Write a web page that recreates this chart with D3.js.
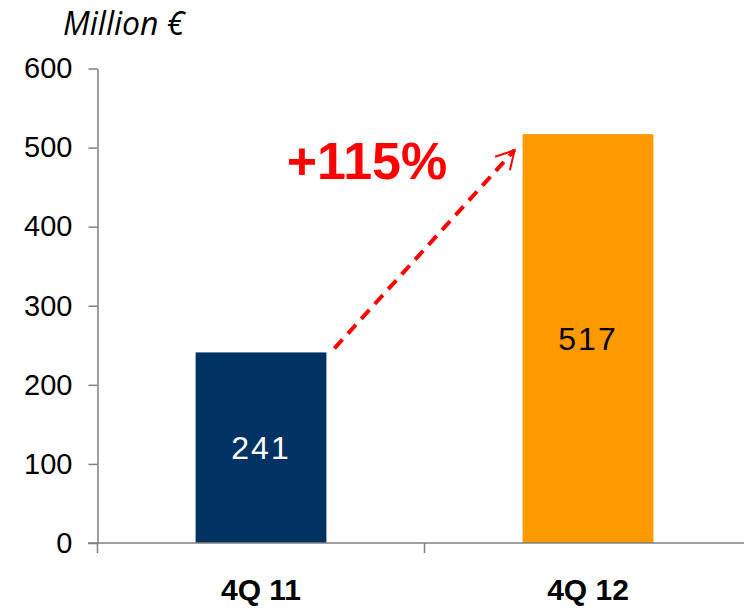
<!DOCTYPE html>
<html>
<head>
<meta charset="utf-8">
<script src="https://cdn.jsdelivr.net/npm/d3@7"></script>
<style>
  body { margin: 0; background: #fff; }
  svg { display: block; }
</style>
</head>
<body>
<svg width="744" height="608"></svg>
<script>
const categories = ["4Q 11", "4Q 12"];
const values = [241, 517];
const colors = ["#003263", "#FF9900"];
const labelColors = ["#ffffff", "#000000"];
const yTicks = [0, 100, 200, 300, 400, 500, 600];
const growthLabel = "+115%";

const width = 744, height = 608;
const svg = d3.select("svg");

const x = d3.scaleBand()
    .domain(categories)
    .range([97.5, 751.5])
    .paddingInner(0.6)
    .paddingOuter(0.3);

const y = d3.scaleLinear()
    .domain([0, 600])
    .range([543, 68.5]);

// y axis
const yAxis = svg.append("g")
    .attr("transform", "translate(97.5,0)")
    .call(d3.axisLeft(y).tickValues(yTicks).tickSize(9).tickSizeOuter(0).tickPadding(16));
yAxis.select(".domain").attr("stroke", "#7f7f7f").attr("stroke-width", 1.5);
yAxis.selectAll(".tick line").attr("stroke", "#7f7f7f").attr("stroke-width", 1.5);
yAxis.selectAll(".tick text")
    .attr("font-family", "Liberation Sans, Arial, sans-serif")
    .attr("font-size", 29)
    .attr("fill", "#000");

// bars
svg.selectAll("rect.bar")
    .data(values)
    .enter()
    .append("rect")
    .attr("class", "bar")
    .attr("x", (d, i) => x(categories[i]))
    .attr("y", d => y(d))
    .attr("width", x.bandwidth())
    .attr("height", d => y(0) - y(d))
    .attr("fill", (d, i) => colors[i]);

// x axis line and ticks at band boundaries
svg.append("line")
    .attr("x1", 88).attr("x2", width)
    .attr("y1", y(0)).attr("y2", y(0))
    .attr("stroke", "#7f7f7f").attr("stroke-width", 1.5);

const bounds = d3.range(categories.length + 1).map(i => x.range()[0] + i * x.step());
svg.selectAll("line.xtick")
    .data(bounds)
    .enter()
    .append("line")
    .attr("class", "xtick")
    .attr("x1", d => d).attr("x2", d => d)
    .attr("y1", y(0)).attr("y2", y(0) + 10)
    .attr("stroke", "#7f7f7f").attr("stroke-width", 1.5);

svg.selectAll("text.cat")
    .data(categories)
    .enter()
    .append("text")
    .attr("class", "cat")
    .attr("x", d => x(d) + x.bandwidth() / 2)
    .attr("y", 600)
    .attr("text-anchor", "middle")
    .attr("font-family", "Liberation Sans, Arial, sans-serif")
    .attr("font-weight", "bold")
    .attr("font-size", 30)
    .text(d => d);

// value labels, centred in bars
svg.selectAll("text.val")
    .data(values)
    .enter()
    .append("text")
    .attr("class", "val")
    .attr("x", (d, i) => x(categories[i]) + x.bandwidth() / 2)
    .attr("y", d => (y(d) + y(0)) / 2)
    .attr("dy", "0.36em")
    .attr("text-anchor", "middle")
    .attr("font-family", "Liberation Sans, Arial, sans-serif")
    .attr("font-size", 32)
    .attr("letter-spacing", 2)
    .attr("fill", (d, i) => labelColors[i])
    .text(d => d);

// title
svg.append("text")
    .attr("x", 63)
    .attr("y", 35)
    .attr("font-family", "'Open Sans', sans-serif")
    .attr("font-style", "italic")
    .attr("font-size", 32)
    .text("Million €");

// growth arrow
const x0 = x(categories[0]) + x.bandwidth() + 8, y0 = y(values[0]) - 4;
const x1 = x(categories[1]) - 8, y1 = y(values[1]) + 16;
svg.append("defs").append("marker")
    .attr("id", "head")
    .attr("viewBox", "0 0 12 12")
    .attr("refX", 10).attr("refY", 6)
    .attr("markerWidth", 6).attr("markerHeight", 6)
    .attr("markerUnits", "strokeWidth")
    .attr("orient", "auto")
    .append("path")
    .attr("d", "M1,1 L10,6 L1,11")
    .attr("fill", "none")
    .attr("stroke", "#ff0000")
    .attr("stroke-width", 1);

svg.append("line")
    .attr("x1", x0).attr("y1", y0)
    .attr("x2", x1).attr("y2", y1)
    .attr("stroke", "#ff0000")
    .attr("stroke-width", 4)
    .attr("stroke-dasharray", "12,8")
    .attr("marker-end", "url(#head)");

svg.append("text")
    .attr("x", 367)
    .attr("y", 179)
    .attr("text-anchor", "middle")
    .attr("font-family", "Liberation Sans, Arial, sans-serif")
    .attr("font-weight", "bold")
    .attr("font-size", 52)
    .attr("fill", "#ff0000")
    .text(growthLabel);
</script>
</body>
</html>
